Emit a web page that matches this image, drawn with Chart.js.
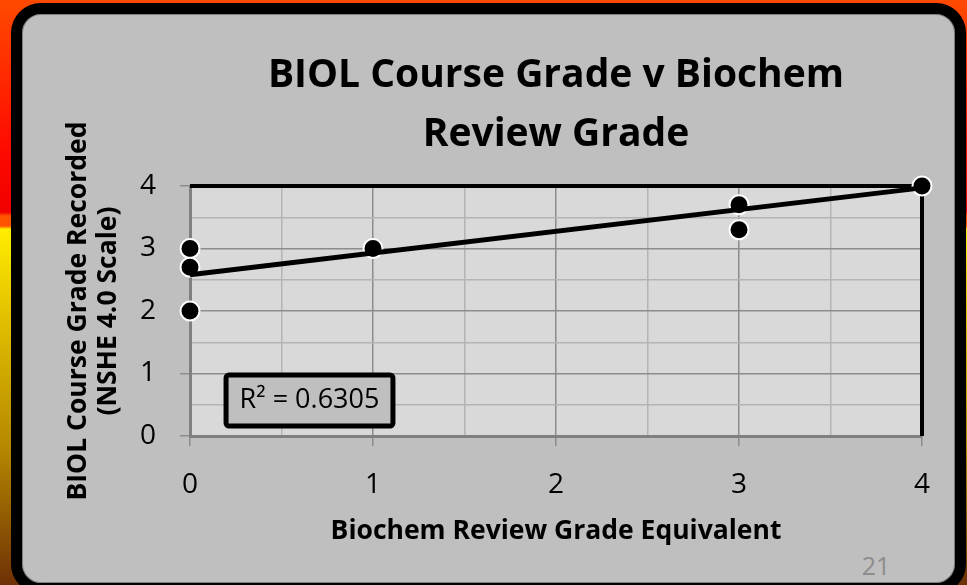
<!DOCTYPE html>
<html>
<head>
<meta charset="utf-8">
<script src="https://cdn.jsdelivr.net/npm/chart.js@4.4.1/dist/chart.umd.min.js"></script>
<style>
  html, body { margin: 0; padding: 0; }
  body {
    width: 967px; height: 585px; overflow: hidden; position: relative;
    background: linear-gradient(to bottom,
      #FF4A00 0px, #FF3000 60px, #FF0A00 150px, #F00000 212px,
      #FF5500 216px, #FF5500 226px, #FFEE00 229px, #E8C800 300px,
      #B58600 450px, #6E3006 585px);
  }
  #frame {
    position: absolute; left: 11px; top: 3px; width: 955px; height: 591px;
    box-sizing: border-box; border: 11px solid #000; border-radius: 30px;
    background: #BFBFBF; box-shadow: inset 0 0 0 1px #7f7f7f;
  }
  #page {
    position: absolute; left: 856px; top: 550px; width: 40px; text-align: center;
    font-family: "Open Sans", sans-serif; font-size: 25px; color: #8c8c8c; line-height: 30px;
  }
  canvas { position: absolute; left: 0; top: 0; }
</style>
</head>
<body>
<div id="frame"></div>
<div id="page">21</div>
<canvas id="c" width="967" height="585"></canvas>
<script>
// ---- data ----
const reviewGrade = [0, 0, 0, 1, 3, 3, 4];          // x: Biochem review grade equivalent
const courseGrade = [3, 2.7, 2, 3, 3.7, 3.3, 4];     // y: BIOL course grade recorded
const trendX = [0, 4];                               // linear trendline ends
const trendY = [2.58, 3.97];
const axisTickLabels = [0, 1, 2, 3, 4];
const titleLines = ['BIOL Course Grade v Biochem', 'Review Grade'];
const yTitleLines = ['BIOL Course Grade Recorded', '(NSHE 4.0 Scale)'];
const xTitle = 'Biochem Review Grade Equivalent';
const r2Label = 'R\u00B2 = 0.6305';

const FONT = '"Open Sans", Lato, sans-serif';

const points = reviewGrade.map((x, i) => ({ x, y: courseGrade[i] }));
const trend = trendX.map((x, i) => ({ x, y: trendY[i] }));

const isMajor = v => axisTickLabels.includes(v);

const plotDecor = {
  id: 'plotDecor',
  beforeDraw(chart) {
    const { ctx, chartArea: a } = chart;
    ctx.save();
    ctx.fillStyle = '#D9D9D9';
    ctx.fillRect(a.left, a.top, a.right - a.left, a.bottom - a.top);
    ctx.restore();
  },
  beforeDatasetsDraw(chart) {
    const { ctx, chartArea: a } = chart;
    ctx.save();
    ctx.strokeStyle = '#000';
    ctx.lineWidth = 4;
    ctx.beginPath();
    ctx.moveTo(a.left, a.top);
    ctx.lineTo(a.right, a.top);
    ctx.lineTo(a.right, a.bottom);
    ctx.stroke();
    ctx.restore();
  },
  afterDraw(chart) {
    const { ctx, scales: { x, y } } = chart;
    const l = x.getPixelForValue(0.197), r = x.getPixelForValue(1.109);
    const t = y.getPixelForValue(0.976), b = y.getPixelForValue(0.16);
    ctx.save();
    ctx.beginPath();
    ctx.roundRect(l, t, r - l, b - t, 3);
    ctx.fillStyle = '#BFBFBF';
    ctx.fill();
    ctx.lineWidth = 5;
    ctx.strokeStyle = '#000';
    ctx.stroke();
    ctx.fillStyle = '#000';
    ctx.font = '27px ' + FONT;
    ctx.textAlign = 'center';
    ctx.textBaseline = 'middle';
    ctx.fillText(r2Label, (l + r) / 2, (t + b) / 2);
    ctx.restore();
  }
};

new Chart(document.getElementById('c'), {
  type: 'scatter',
  data: {
    datasets: [
      {
        type: 'line', data: trend, borderColor: '#000', borderWidth: 5,
        pointRadius: 0, fill: false, order: 0, clip: false
      },
      {
        data: points, backgroundColor: '#000', borderColor: '#fff',
        borderWidth: 2, pointRadius: 9.5, order: 1, clip: false
      }
    ]
  },
  options: {
    responsive: false,
    devicePixelRatio: 1,
    animation: false,
    layout: { padding: { left: 63, right: 45, top: 0, bottom: 38 } },
    plugins: {
      legend: { display: false },
      tooltip: { enabled: false },
      title: {
        display: true, text: titleLines, color: '#000', fullSize: false,
        font: { family: FONT, size: 39, weight: 'bold', lineHeight: 1.5 },
        padding: { top: 47, bottom: 22 }
      }
    },
    scales: {
      x: {
        type: 'linear', min: 0, max: 4,
        afterFit(s) { s.height = 111; },
        ticks: {
          stepSize: 0.5, color: '#000', padding: 22, autoSkip: false, maxRotation: 0,
          font: { family: FONT, size: 28 },
          callback: v => isMajor(v) ? String(v) : ''
        },
        grid: {
          color: c => isMajor(c.tick.value) ? '#8c8c8c' : '#b4b4b4',
          tickColor: c => isMajor(c.tick.value) ? '#8c8c8c' : 'rgba(0,0,0,0)',
          lineWidth: 1.5, tickLength: 10
        },
        border: { color: '#808080', width: 3 },
        title: {
          display: true, text: xTitle, color: '#000',
          font: { family: FONT, size: 26.5, weight: 'bold', lineHeight: 1.2 },
          padding: { top: 0, bottom: 0 }
        }
      },
      y: {
        type: 'linear', min: 0, max: 4,
        afterFit(s) { s.width = 127; },
        ticks: {
          stepSize: 0.5, color: '#000', padding: 24, autoSkip: false,
          font: { family: FONT, size: 28 },
          callback: v => isMajor(v) ? String(v) : ''
        },
        grid: {
          color: c => isMajor(c.tick.value) ? '#8c8c8c' : '#b4b4b4',
          tickColor: c => isMajor(c.tick.value) ? '#8c8c8c' : 'rgba(0,0,0,0)',
          lineWidth: 1.5, tickLength: 10
        },
        border: { color: '#808080', width: 3 },
        title: {
          display: true, text: yTitleLines, color: '#000',
          font: { family: FONT, size: 26.5, weight: 'bold', lineHeight: 1.15 },
          padding: { top: 0, bottom: 0 }
        }
      }
    }
  },
  plugins: [plotDecor]
});
</script>
</body>
</html>
